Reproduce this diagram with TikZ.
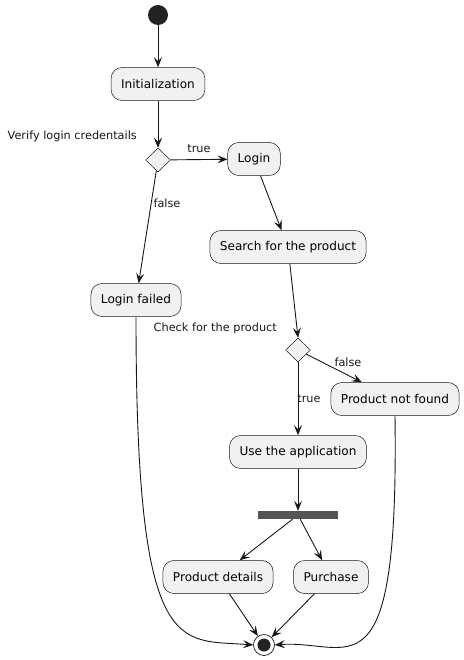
\documentclass[tikz,border=0pt]{standalone}
\usepackage{fontspec}
\setmainfont{DejaVu Sans}
\usetikzlibrary{arrows.meta, shapes.geometric, positioning}
\definecolor{ink}{HTML}{181818}
\definecolor{boxfill}{HTML}{F1F1F1}
\definecolor{barfill}{HTML}{555555}
\definecolor{dotfill}{HTML}{222222}

\begin{document}
\begin{tikzpicture}[x=1pt, y=-1pt,
  act/.style={draw=ink, line width=0.5pt, fill=boxfill, rounded corners=11pt,
    minimum height=33pt, inner xsep=10pt, text=black,
    font=\fontsize{12.1}{14}\selectfont},
  choice/.style={diamond, draw=ink, line width=0.5pt, fill=boxfill,
    minimum width=25pt, minimum height=24pt, inner sep=0pt},
  flow/.style={ink, line width=0.9pt, -{Stealth[length=10pt,width=8pt,inset=4pt]}},
  lbl/.style={font=\fontsize{11.3}{13}\selectfont, text=ink, inner sep=1pt}]
  \useasboundingbox (0,0) rectangle (463,660);
  % Start and end
  \node[circle, fill=dotfill, minimum size=20pt, inner sep=0pt] (start) at (158,15) {};
  \node[circle, draw=ink, line width=0.7pt, fill=white, minimum size=21pt, inner sep=0pt,
    path picture={\fill[dotfill] (path picture bounding box.center) circle (6.5pt);}]
    (end) at (264,645) {};
  % Activities
  \node[act] (init) at (158,84) {Initialization};
  \node[act] (login) at (254,159) {Login};
  \node[act] (search) at (288,247) {Search for the product};
  \node[act] (fail) at (136,300) {Login failed};
  \node[act] (nf) at (395,399) {Product not found};
  \node[act] (use) at (298,452) {Use the application};
  \node[act] (details) at (218,577) {Product details};
  \node[act] (buy) at (331,577) {Purchase};
  % Decisions and fork
  \node[choice] (d1) at (158,160) {};
  \node[choice] (d2) at (298,350) {};
  \node[fill=barfill, minimum width=80pt, minimum height=8pt, inner sep=0pt] (bar) at (298,515) {};
  % Labels
  \node[lbl, anchor=east] (q1) at (138,136) {Verify login credentails};
  \node[lbl, anchor=east] (q2) at (278,328) {Check for the product};
  \node[lbl] (t1) at (199,149) {true};
  \node[lbl] (f1) at (167,203) {false};
  \node[lbl] (f2) at (348,362) {false};
  \node[lbl] (t2) at (309,399) {true};
  % Flows
  \foreach \a/\b in {start/init, init/d1, d1/login, d1/fail, login/search,
                     d2/nf, d2/use, use/bar, bar/details, bar/buy,
                     details/end, buy/end}
    \draw[flow] (\a) -- (\b);
  \draw[flow] (search) -- (d2.north);
  \draw[flow] (fail.south) .. controls +(0,345) and +(-75,-6) .. (end.west);
  \draw[flow] (nf.south) .. controls +(4,290) and +(75,-6) .. (end.east);
\end{tikzpicture}
\end{document}
